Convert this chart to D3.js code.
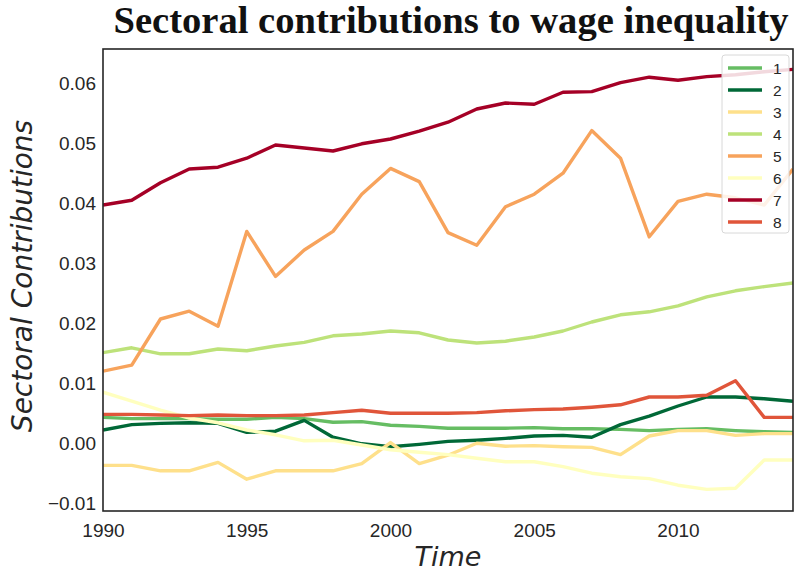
<!DOCTYPE html>
<html>
<head>
<meta charset="utf-8">
<script src="https://cdn.jsdelivr.net/npm/d3@7"></script>
<style>
  body { margin: 0; background: #fff; }
  svg { display: block; }
</style>
</head>
<body>
<svg id="chart" width="800" height="573"></svg>
<script>
const years = d3.range(1990, 2015);
const seriesNames = ["1", "2", "3", "4", "5", "6", "7", "8"];
const s1 = [0.0046,0.0044,0.0044,0.0044,0.0043,0.0043,0.0046,0.0044,0.0038,0.0039,0.0033,0.0031,0.0028,0.0028,0.0028,0.0029,0.0027,0.0027,0.0026,0.0024,0.0026,0.0027,0.0024,0.0022,0.0021];
const s2 = [0.0025,0.0034,0.0036,0.0037,0.0036,0.0021,0.0023,0.0041,0.0013,0.0002,-0.0003,0.0001,0.0006,0.0008,0.0011,0.0015,0.0016,0.0013,0.0034,0.0048,0.0065,0.0080,0.0080,0.0077,0.0073];
const s3 = [-0.0034,-0.0034,-0.0043,-0.0043,-0.0029,-0.0057,-0.0043,-0.0043,-0.0043,-0.0031,0.0004,-0.0031,-0.0017,0.0003,-0.0002,-0.0001,-0.0003,-0.0004,-0.0016,0.0015,0.0024,0.0024,0.0016,0.0019,0.0019];
const s4 = [0.0154,0.0162,0.0152,0.0152,0.0160,0.0157,0.0165,0.0171,0.0182,0.0185,0.0190,0.0187,0.0175,0.0170,0.0173,0.0180,0.0190,0.0205,0.0217,0.0222,0.0232,0.0247,0.0257,0.0264,0.0270];
const s5 = [0.0123,0.0133,0.0210,0.0223,0.0198,0.0356,0.0281,0.0325,0.0356,0.0418,0.0461,0.0439,0.0354,0.0333,0.0397,0.0418,0.0453,0.0524,0.0478,0.0347,0.0406,0.0418,0.0412,0.0400,0.0460];
const s6 = [0.0088,0.0073,0.0058,0.0045,0.0037,0.0025,0.0017,0.0007,0.0008,0.0000,-0.0008,-0.0012,-0.0016,-0.0022,-0.0028,-0.0028,-0.0036,-0.0047,-0.0053,-0.0056,-0.0067,-0.0074,-0.0072,-0.0025,-0.0025];
const s7 = [0.0400,0.0408,0.0437,0.0460,0.0463,0.0478,0.0500,0.0495,0.0490,0.0502,0.0510,0.0523,0.0538,0.0560,0.0570,0.0568,0.0588,0.0589,0.0604,0.0613,0.0608,0.0614,0.0617,0.0622,0.0626];
const s8 = [0.0051,0.0051,0.0050,0.0049,0.0050,0.0049,0.0049,0.0050,0.0054,0.0058,0.0053,0.0053,0.0053,0.0054,0.0057,0.0059,0.0060,0.0063,0.0067,0.0080,0.0080,0.0083,0.0107,0.0046,0.0046];
const colors = ["#66bd63","#006837","#fee08b","#bde27a","#f7a35c","#ffffbf","#a50026","#e0553a"];
const xTicks = [1990, 1995, 2000, 2005, 2010];
const yTicks = [-0.01, 0.00, 0.01, 0.02, 0.03, 0.04, 0.05, 0.06];
const titleText = "Sectoral contributions to wage inequality";
const xLabel = "Time";
const yLabel = "Sectoral Contributions";

const allSeries = [s1, s2, s3, s4, s5, s6, s7, s8];

const svg = d3.select("#chart");
const L = 103, R = 793, T = 49, B = 511;

const x = d3.scaleLinear().domain([1990, 2014]).range([L, R]);
const y = d3.scaleLinear().domain([-0.011, 0.066]).range([B, T]);

svg.append("rect").attr("width", 800).attr("height", 573).attr("fill", "#fff");

svg.append("defs").append("clipPath").attr("id", "clip")
  .append("rect").attr("x", L).attr("y", T).attr("width", R - L).attr("height", B - T);

const line = d3.line().x((d, i) => x(years[i])).y(d => y(d));

const g = svg.append("g").attr("clip-path", "url(#clip)");
allSeries.forEach((s, k) => {
  g.append("path")
    .datum(s)
    .attr("d", line)
    .attr("fill", "none")
    .attr("stroke", colors[k])
    .attr("stroke-width", 3.4)
    .attr("stroke-linejoin", "round")
    .attr("stroke-linecap", "butt");
});

// axes
const xAxis = svg.append("g").attr("transform", `translate(0,${B})`)
  .call(d3.axisBottom(x).tickValues(xTicks).tickSize(0).tickPadding(13).tickFormat(d3.format("d")));
const yAxis = svg.append("g").attr("transform", `translate(${L},0)`)
  .call(d3.axisLeft(y).tickValues(yTicks).tickSize(0).tickPadding(7).tickFormat(d3.format(".2f")));
[xAxis, yAxis].forEach(a => {
  a.select(".domain").remove();
  a.selectAll("text").attr("font-family", "'Liberation Sans', Arial, sans-serif")
    .attr("font-size", 19).attr("fill", "#262626");
});
yAxis.selectAll("text").attr("dy", "0.22em");

// frame
svg.append("rect").attr("x", L).attr("y", T).attr("width", R - L).attr("height", B - T)
  .attr("fill", "none").attr("stroke", "#262626").attr("stroke-width", 1.6);

// title
svg.append("text").attr("x", 451).attr("y", 33).attr("text-anchor", "middle")
  .attr("font-family", "'Liberation Serif', 'Times New Roman', serif").attr("font-weight", "bold")
  .attr("font-size", 38.6).attr("fill", "#111").text(titleText);

// axis labels
svg.append("text").attr("x", (L + R) / 2).attr("y", 566).attr("text-anchor", "middle")
  .attr("font-family", "'DejaVu Sans', sans-serif").attr("font-style", "italic")
  .attr("font-size", 27).attr("fill", "#262626").text(xLabel);
svg.append("text").attr("transform", `translate(32,276) rotate(-90)`).attr("text-anchor", "middle")
  .attr("font-family", "'DejaVu Sans', sans-serif").attr("font-style", "italic")
  .attr("font-size", 28).attr("fill", "#262626").text(yLabel);

// legend
const lg = svg.append("g");
lg.append("rect").attr("x", 722).attr("y", 55).attr("width", 67).attr("height", 178)
  .attr("rx", 3).attr("fill", "#fff").attr("fill-opacity", 0.85)
  .attr("stroke", "#d8d8d8").attr("stroke-width", 1);
seriesNames.forEach((n, k) => {
  const yy = 68 + k * 22;
  lg.append("line").attr("x1", 728).attr("x2", 762).attr("y1", yy).attr("y2", yy)
    .attr("stroke", colors[k]).attr("stroke-width", 3.4);
  lg.append("text").attr("x", 773).attr("y", yy + 5.5)
    .attr("font-family", "'Liberation Sans', Arial, sans-serif").attr("font-size", 15.5)
    .attr("fill", "#262626").text(n);
});
</script>
</body>
</html>
